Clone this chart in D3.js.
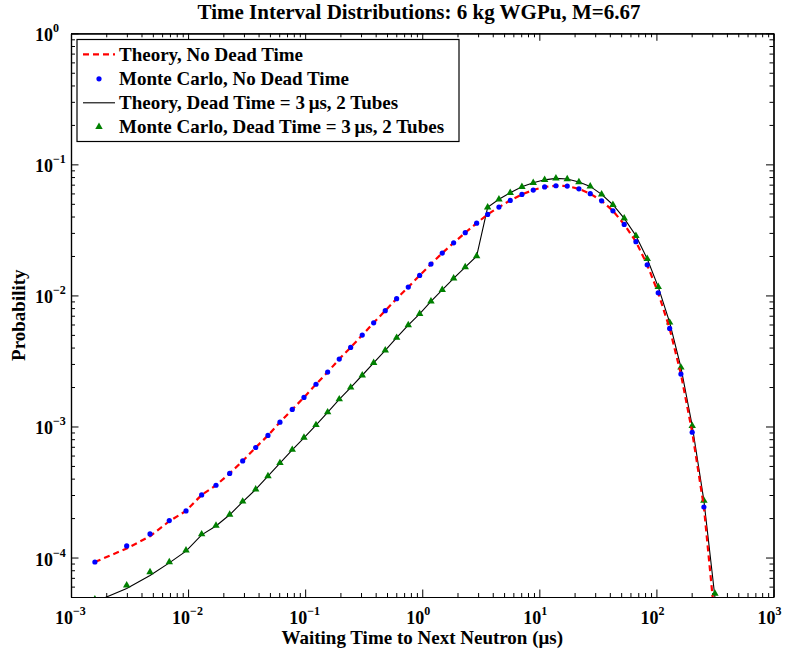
<!DOCTYPE html>
<html>
<head>
<meta charset="utf-8">
<script src="https://cdnjs.cloudflare.com/ajax/libs/d3/7.8.5/d3.min.js"></script>
<style>
  body { margin: 0; background: #fff; }
  svg { display: block; }
  text { font-family: "Liberation Serif", "Times New Roman", serif; font-weight: bold; fill: #000; }
</style>
</head>
<body>
<svg id="app" width="788" height="655"></svg>
<script>
// waiting time bin centres (microseconds)
const waitTime = [0.0016, 0.00299, 0.00473, 0.00691, 0.0096, 0.01306, 0.01731, 0.02266, 0.02926, 0.03779,
  0.04811, 0.06092, 0.07758, 0.09768, 0.1237, 0.1556, 0.1955, 0.2446, 0.3073, 0.3846,
  0.4831, 0.6044, 0.7595, 0.9502, 1.187, 1.482, 1.854, 2.329, 2.915, 3.619,
  4.519, 5.643, 7.10, 8.87, 11.10, 13.86, 17.31, 21.78, 27.21, 34.04,
  42.51, 53.09, 66.83, 83.44, 103.6, 129.7, 161.9, 202.2, 254.4, 316.0];

const theoryNoDead = [9.25e-5, 1.172e-4, 1.455e-4, 1.892e-4, 2.27e-4, 3.006e-4, 3.56e-4, 4.385e-4, 5.46e-4, 6.91e-4,
  8.54e-4, 1.078e-3, 1.349e-3, 1.665e-3, 2.10e-3, 2.60e-3, 3.27e-3, 4.01e-3, 4.98e-3, 6.18e-3,
  7.65e-3, 9.45e-3, 1.157e-2, 1.421e-2, 1.734e-2, 2.104e-2, 2.52e-2, 3.01e-2, 3.56e-2, 4.15e-2,
  4.72e-2, 5.31e-2, 5.90e-2, 6.37e-2, 6.73e-2, 6.87e-2, 6.83e-2, 6.51e-2, 5.97e-2, 5.27e-2,
  4.42e-2, 3.48e-2, 2.57e-2, 1.713e-2, 1.047e-2, 5.60e-3, 2.51e-3, 9.04e-4, 2.43e-4, 3.3e-5];

const mcNoDead = [9.25e-5, 1.227e-4, 1.514e-4, 1.915e-4, 2.27e-4, 3.006e-4, 3.56e-4, 4.385e-4, 5.46e-4, 6.91e-4,
  8.54e-4, 1.078e-3, 1.349e-3, 1.665e-3, 2.10e-3, 2.60e-3, 3.27e-3, 4.01e-3, 4.98e-3, 6.18e-3,
  7.65e-3, 9.45e-3, 1.157e-2, 1.421e-2, 1.734e-2, 2.104e-2, 2.52e-2, 3.01e-2, 3.56e-2, 4.15e-2,
  4.72e-2, 5.31e-2, 5.90e-2, 6.37e-2, 6.73e-2, 6.87e-2, 6.83e-2, 6.51e-2, 5.97e-2, 5.27e-2,
  4.42e-2, 3.48e-2, 2.57e-2, 1.713e-2, 1.047e-2, 5.60e-3, 2.51e-3, 9.04e-4, 2.43e-4, null];

const theoryDead = [4.59e-5, 5.80e-5, 7.29e-5, 9.10e-5, 1.12e-4, 1.49e-4, 1.74e-4, 2.12e-4, 2.66e-4, 3.31e-4,
  4.18e-4, 5.26e-4, 6.64e-4, 8.20e-4, 1.025e-3, 1.283e-3, 1.612e-3, 1.982e-3, 2.46e-3, 3.06e-3,
  3.81e-3, 4.76e-3, 5.93e-3, 7.24e-3, 9.00e-3, 1.104e-2, 1.349e-2, 1.644e-2, 1.995e-2, 4.70e-2,
  5.41e-2, 6.07e-2, 6.75e-2, 7.24e-2, 7.62e-2, 7.82e-2, 7.73e-2, 7.33e-2, 6.79e-2, 5.90e-2,
  4.92e-2, 3.87e-2, 2.85e-2, 1.902e-2, 1.163e-2, 6.22e-3, 2.82e-3, 1.011e-3, 2.72e-4, 5.0e-5];

const mcDead = [4.8e-5, 6.14e-5, 7.76e-5, 9.25e-5, 1.137e-4, 1.507e-4, 1.755e-4, 2.13e-4, 2.68e-4, 3.32e-4,
  4.19e-4, 5.27e-4, 6.65e-4, 8.22e-4, 1.027e-3, 1.285e-3, 1.615e-3, 1.985e-3, 2.46e-3, 3.06e-3,
  3.81e-3, 4.76e-3, 5.93e-3, 7.24e-3, 9.00e-3, 1.104e-2, 1.349e-2, 1.644e-2, 1.995e-2, 4.70e-2,
  5.41e-2, 6.07e-2, 6.75e-2, 7.24e-2, 7.62e-2, 7.82e-2, 7.73e-2, 7.33e-2, 6.79e-2, 5.90e-2,
  4.92e-2, 3.87e-2, 2.85e-2, 1.902e-2, 1.163e-2, 6.22e-3, 2.82e-3, 1.011e-3, 2.72e-4, 5.31e-5];

const xExponents = [-3, -2, -1, 0, 1, 2, 3];
const yExponents = [-4, -3, -2, -1, 0];
const legendLabels = [
  "Theory, No Dead Time",
  "Monte Carlo, No Dead Time",
  "Theory, Dead Time = 3\u2009\u03bcs, 2 Tubes",
  "Monte Carlo, Dead Time = 3\u2009\u03bcs, 2 Tubes"
];

const svg = d3.select("#app");
const plotL = 71, plotR = 773.5, plotT = 33.3, plotB = 597;

const x = d3.scaleLog().domain([1e-3, 1e3]).range([plotL, plotR]);
const y = d3.scaleLog().domain([5e-5, 1]).range([plotB, plotT]);

svg.append("defs").append("clipPath").attr("id", "plotClip")
  .append("rect")
  .attr("x", plotL).attr("y", plotT)
  .attr("width", plotR - plotL).attr("height", plotB - plotT);

// ticks: minor then major, inward on all four sides
const isMajor = v => Math.abs(Math.log10(v) - Math.round(Math.log10(v))) < 1e-9;
const xMinor = x.ticks().filter(v => !isMajor(v));
const yMinor = y.ticks().filter(v => !isMajor(v));
const xMajor = xExponents.map(e => Math.pow(10, e));
const yMajor = yExponents.map(e => Math.pow(10, e));

function addAxis(axisFn, scale, tr, minor, major) {
  const g = svg.append("g").attr("transform", tr);
  g.call(axisFn(scale).tickValues(minor).tickSize(-4).tickSizeOuter(0).tickFormat(""));
  const g2 = svg.append("g").attr("transform", tr);
  g2.call(axisFn(scale).tickValues(major).tickSize(-7.5).tickSizeOuter(0).tickFormat(""));
  [g, g2].forEach(s => {
    s.selectAll("line").attr("stroke", "#000").attr("stroke-width", 1);
    s.selectAll(".domain").attr("stroke", "#000").attr("stroke-width", 1.2);
  });
}
addAxis(d3.axisBottom, x, `translate(0,${plotB})`, xMinor, xMajor);
addAxis(d3.axisTop, x, `translate(0,${plotT})`, xMinor, xMajor);
addAxis(d3.axisLeft, y, `translate(${plotL},0)`, yMinor, yMajor);
addAxis(d3.axisRight, y, `translate(${plotR},0)`, yMinor, yMajor);

// tick labels with superscript exponents
const fmtExp = e => (e < 0 ? "\u2212" : "") + Math.abs(e);
xExponents.forEach(e => {
  const t = svg.append("text")
    .attr("x", x(Math.pow(10, e)) - 16)
    .attr("y", 623.5)
    .attr("font-size", 18);
  t.append("tspan").text("10");
  t.append("tspan").attr("dy", -9).attr("font-size", 12).text(fmtExp(e));
});
yExponents.forEach(e => {
  const t = svg.append("text")
    .attr("x", 35)
    .attr("y", y(Math.pow(10, e)) + 8)
    .attr("font-size", 18);
  t.append("tspan").text("10");
  t.append("tspan").attr("dy", -9).attr("font-size", 12).text(fmtExp(e));
});

// title and axis labels
svg.append("text")
  .attr("x", 419).attr("y", 19)
  .attr("text-anchor", "middle").attr("font-size", 21)
  .text("Time Interval Distributions: 6 kg WGPu, M=6.67");
svg.append("text")
  .attr("x", (plotL + plotR) / 2).attr("y", 644)
  .attr("text-anchor", "middle").attr("font-size", 19)
  .text("Waiting Time to Next Neutron (\u03bcs)");
svg.append("text")
  .attr("transform", `translate(25,${(plotT + plotB) / 2}) rotate(-90)`)
  .attr("text-anchor", "middle").attr("font-size", 19)
  .text("Probability");

// data
const plot = svg.append("g").attr("clip-path", "url(#plotClip)");
const pts = ys => waitTime.map((t, i) => ({ t: t, p: ys[i] })).filter(d => d.p != null);
const line = d3.line().x(d => x(d.t)).y(d => y(d.p));
const tri = d3.symbol().type(d3.symbolTriangle).size(24);

plot.append("path").datum(pts(theoryDead))
  .attr("d", line).attr("fill", "none")
  .attr("stroke", "#000").attr("stroke-width", 1.1);
plot.selectAll(".mcDead").data(pts(mcDead)).enter()
  .append("path").attr("class", "mcDead")
  .attr("d", tri)
  .attr("transform", d => `translate(${x(d.t)},${y(d.p)})`)
  .attr("fill", "#008000");
plot.append("path").datum(pts(theoryNoDead))
  .attr("d", line).attr("fill", "none")
  .attr("stroke", "#ff0000").attr("stroke-width", 2.2)
  .attr("stroke-dasharray", "6,4");
plot.selectAll(".mcNoDead").data(pts(mcNoDead)).enter()
  .append("circle").attr("class", "mcNoDead")
  .attr("cx", d => x(d.t)).attr("cy", d => y(d.p))
  .attr("r", 2.6).attr("fill", "#0000ff");

// legend
const lg = svg.append("g");
lg.append("rect")
  .attr("x", 77).attr("y", 39.5).attr("width", 382).attr("height", 102)
  .attr("fill", "#fff").attr("stroke", "#000").attr("stroke-width", 1.2);
const rowY = [54.3, 78.8, 102.8, 126.8];
lg.append("line").attr("x1", 83).attr("x2", 115).attr("y1", rowY[0]).attr("y2", rowY[0])
  .attr("stroke", "#ff0000").attr("stroke-width", 2.2).attr("stroke-dasharray", "6,4");
lg.append("circle").attr("cx", 99).attr("cy", rowY[1]).attr("r", 2.6).attr("fill", "#0000ff");
lg.append("line").attr("x1", 83).attr("x2", 115).attr("y1", rowY[2]).attr("y2", rowY[2])
  .attr("stroke", "#000").attr("stroke-width", 1.1);
lg.append("path").attr("d", tri).attr("transform", `translate(99,${rowY[3]})`).attr("fill", "#008000");
lg.selectAll(".lbl").data(legendLabels).enter()
  .append("text").attr("class", "lbl")
  .attr("x", 119).attr("y", (d, i) => rowY[i] + 6.5)
  .attr("font-size", 19)
  .text(d => d);
</script>
</body>
</html>
